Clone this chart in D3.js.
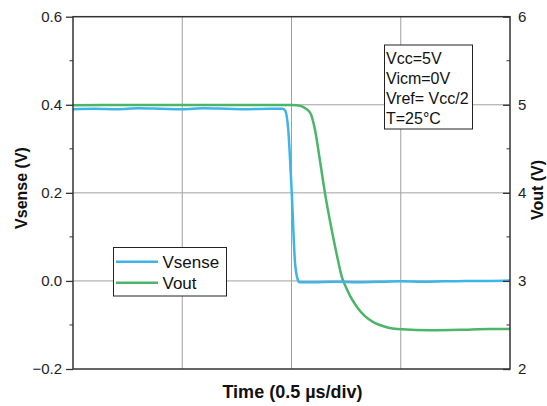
<!DOCTYPE html>
<html>
<head>
<meta charset="utf-8">
<script src="https://cdn.jsdelivr.net/npm/d3@7"></script>
<style>
  html, body { margin: 0; padding: 0; background: #fff; }
  svg { display: block; font-family: "Liberation Sans", Arial, sans-serif; }
</style>
</head>
<body>
<svg id="chart" width="547" height="406"></svg>
<script>
// Time in µs (0.5 µs per division, 4 divisions)
const vsenseTime = [0, 0.10, 0.20, 0.30, 0.40, 0.50, 0.60, 0.70, 0.80, 0.90, 0.960, 0.972, 0.985, 1.001, 1.016, 1.028, 1.036,
  1.10, 1.20, 1.30, 1.40, 1.50, 1.60, 1.70, 1.80, 1.90, 2.00];
const vsenseValues = [0.390, 0.391, 0.390, 0.392, 0.391, 0.390, 0.392, 0.391, 0.390, 0.391, 0.391, 0.386, 0.344, 0.201, 0.042, 0.004, -0.003,
  -0.003, -0.002, -0.003, -0.002, -0.001, -0.002, -0.001, 0.000, 0.000, 0.001];

const voutTime = [0, 0.20, 0.40, 0.60, 0.80, 1.000, 1.024, 1.053, 1.085, 1.108, 1.130, 1.153, 1.184, 1.207, 1.230, 1.249, 1.268, 1.298,
  1.336, 1.376, 1.428, 1.505, 1.634, 1.771, 1.908, 2.00];
const voutValues = [4.995, 4.998, 4.997, 4.998, 4.997, 4.998, 4.995, 4.975, 4.91, 4.71, 4.37, 4.00, 3.58, 3.30, 3.05, 2.93, 2.83, 2.71,
  2.60, 2.53, 2.48, 2.45, 2.44, 2.445, 2.455, 2.455];

const leftTicks = [-0.2, 0.0, 0.2, 0.4, 0.6];
const leftMinor = [-0.1, 0.1, 0.3, 0.5];
const rightTicks = [2, 3, 4, 5, 6];
const rightMinor = [2.5, 3.5, 4.5, 5.5];
const timeGrid = [0.5, 1.0, 1.5];

const notes = ["Vcc=5V", "Vicm=0V", "Vref= Vcc/2", "T=25°C"];
const seriesNames = ["Vsense", "Vout"];
const seriesColors = ["#3db5e6", "#4bb56a"];

const svg = d3.select("#chart");
const plotL = 73, plotR = 510, plotT = 16.7, plotB = 369;

const x = d3.scaleLinear().domain([0, 2]).range([plotL, plotR]);
const yL = d3.scaleLinear().domain([-0.2, 0.6]).range([plotB, plotT]);
const yR = d3.scaleLinear().domain([2, 6]).range([plotB, plotT]);

// grid
const grid = svg.append("g").attr("stroke", "#a0a0a0").attr("stroke-width", 1);
grid.selectAll("line.v").data(timeGrid).join("line")
  .attr("x1", d => x(d)).attr("x2", d => x(d)).attr("y1", plotT).attr("y2", plotB);
grid.selectAll("line.h").data([0.0, 0.2, 0.4]).join("line")
  .attr("x1", plotL).attr("x2", plotR).attr("y1", d => yL(d)).attr("y2", d => yL(d));

// series
const lineL = d3.line().x((d, i) => x(vsenseTime[i])).y(d => yL(d)).curve(d3.curveMonotoneX);
const lineR = d3.line().x((d, i) => x(voutTime[i])).y(d => yR(d)).curve(d3.curveMonotoneX);
svg.append("path").datum(voutValues).attr("d", lineR)
  .attr("fill", "none").attr("stroke", seriesColors[1]).attr("stroke-width", 2.5).attr("stroke-linejoin", "round");
svg.append("path").datum(vsenseValues).attr("d", lineL)
  .attr("fill", "none").attr("stroke", seriesColors[0]).attr("stroke-width", 2.5).attr("stroke-linejoin", "round");

// axes
const axisColor = "#333";
const leftAxis = svg.append("g").attr("transform", `translate(${plotL},0)`)
  .call(d3.axisLeft(yL).tickValues(leftTicks).tickSize(7).tickPadding(4).tickFormat(d => d < 0 ? "\u22120.2" : d3.format(".1f")(d)));
leftAxis.append("g").selectAll("line").data(leftMinor).join("line")
  .attr("x1", -3.5).attr("x2", 0).attr("y1", d => yL(d)).attr("y2", d => yL(d)).attr("stroke", axisColor);

const rightAxis = svg.append("g").attr("transform", `translate(${plotR},0)`)
  .call(d3.axisRight(yR).tickValues(rightTicks).tickSize(-7).tickPadding(8).tickFormat(d3.format("d")));
rightAxis.append("g").selectAll("line").data(rightMinor).join("line")
  .attr("x1", -3.5).attr("x2", 0).attr("y1", d => yR(d)).attr("y2", d => yR(d)).attr("stroke", axisColor);

[leftAxis, rightAxis].forEach(a => {
  a.select(".domain").remove();
  a.selectAll(".tick line").attr("stroke", axisColor).attr("stroke-width", 1.3);
  a.selectAll("text").attr("font-size", 15).attr("fill", "#222").attr("font-family", "Liberation Sans, Arial, sans-serif");
});

// frame
svg.append("rect").attr("x", plotL).attr("y", plotT).attr("width", plotR - plotL).attr("height", plotB - plotT)
  .attr("fill", "none").attr("stroke", axisColor).attr("stroke-width", 1.5);

// axis titles
svg.append("text").attr("transform", `translate(26.5,188) rotate(-90)`).attr("text-anchor", "middle")
  .attr("font-size", 16).attr("font-weight", "bold").attr("fill", "#111").text("Vsense (V)");
svg.append("text").attr("transform", `translate(543,190) rotate(-90)`).attr("text-anchor", "middle")
  .attr("font-size", 16).attr("font-weight", "bold").attr("fill", "#111").text("Vout (V)");
svg.append("text").attr("x", 292.5).attr("y", 398).attr("text-anchor", "middle")
  .attr("font-size", 18).attr("font-weight", "bold").attr("fill", "#111").text("Time (0.5 \u00b5s/div)");

// conditions box
const nb = svg.append("g");
nb.append("rect").attr("x", 384.5).attr("y", 45).attr("width", 88).attr("height", 84)
  .attr("fill", "#fff").attr("stroke", "#222").attr("stroke-width", 1);
nb.selectAll("text").data(notes).join("text")
  .attr("x", 386).attr("y", (d, i) => 63.5 + i * 20.2).attr("font-size", 16).attr("fill", "#111").text(d => d);

// legend
const lg = svg.append("g");
lg.append("rect").attr("x", 113.5).attr("y", 247.5).attr("width", 113).attr("height", 48.5)
  .attr("fill", "#fff").attr("stroke", "#222").attr("stroke-width", 1);
const items = lg.selectAll("g.item").data(seriesNames).join("g")
  .attr("transform", (d, i) => `translate(0,${261.7 + i * 21})`);
items.append("line").attr("x1", 116).attr("x2", 158).attr("y1", 0).attr("y2", 0)
  .attr("stroke", (d, i) => seriesColors[i]).attr("stroke-width", 2.5);
items.append("text").attr("x", 162.5).attr("y", 6).attr("font-size", 17).attr("fill", "#111").text(d => d);
</script>
</body>
</html>
